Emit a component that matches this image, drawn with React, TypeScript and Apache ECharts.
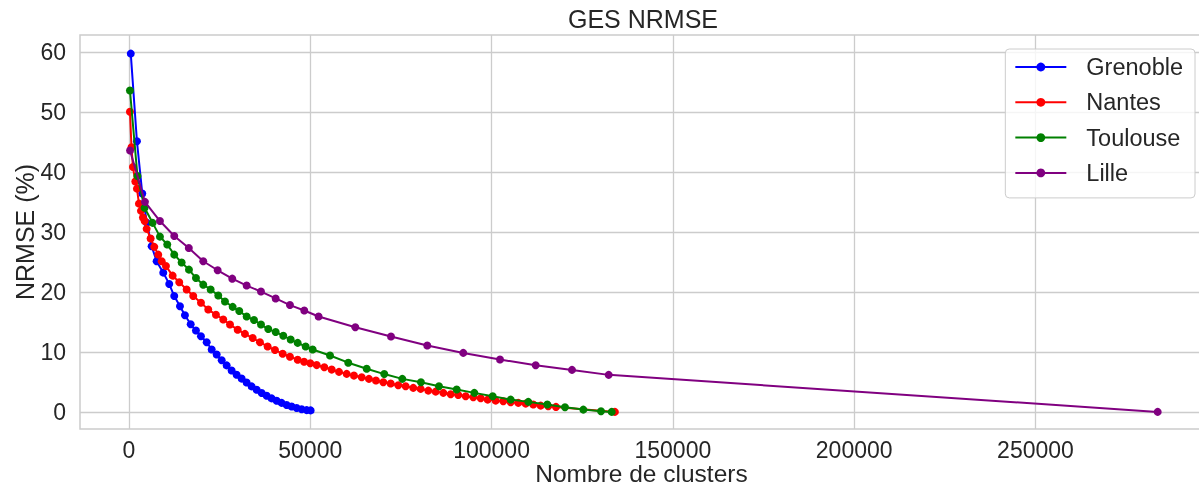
import React, { useEffect, useRef } from "react";
import * as echarts from "echarts";

const seriesNames = ["Grenoble", "Nantes", "Toulouse", "Lille"];
const seriesColors = ["#0000ff", "#ff0000", "#008000", "#800080"];

const grenobleClusters = [500, 2200, 3670, 4960, 6260, 7640, 9460, 11110, 12490, 14070, 15440, 17020, 18480, 19860, 21430, 22810, 24190, 25570, 26950, 28320, 29700, 31080, 32460, 33840, 35220, 36600, 37980, 39360, 40740, 42110, 43490, 44870, 46250, 47630, 49010, 50110];
const grenobleNrmse = [59.7, 45.1, 36.4, 31.5, 27.6, 25.1, 23.2, 21.3, 19.3, 17.6, 16.1, 14.6, 13.55, 12.6, 11.6, 10.4, 9.55, 8.6, 7.75, 6.9, 6.2, 5.55, 4.9, 4.25, 3.7, 3.15, 2.7, 2.25, 1.85, 1.5, 1.15, 0.9, 0.65, 0.45, 0.3, 0.25];

const nantesClusters = [280, 700, 1100, 1750, 2200, 2760, 3310, 3860, 4330, 4880, 5980, 6980, 8080, 9020, 10200, 12050, 13870, 15910, 17730, 19860, 21870, 23990, 26010, 27860, 29980, 31990, 34120, 36130, 38250, 40270, 42390, 44400, 46530, 48300, 50000, 51770, 53870, 55910, 57920, 60040, 62050, 64180, 66190, 68120, 70140, 72180, 74270, 76310, 78410, 80450, 82550, 84590, 86690, 88730, 90820, 92860, 94960, 97000, 98930, 101130, 103230, 105270, 107370, 109410, 111510, 113550, 115640, 117770, 134000];
const nantesNrmse = [50.0, 44.1, 40.8, 38.4, 37.2, 34.7, 33.5, 32.4, 31.8, 30.5, 28.9, 27.5, 26.2, 25.1, 24.3, 22.7, 21.6, 20.4, 19.3, 18.2, 17.05, 16.2, 15.4, 14.55, 13.7, 13.0, 12.3, 11.6, 10.9, 10.3, 9.7, 9.2, 8.7, 8.35, 8.1, 7.8, 7.43, 7.05, 6.67, 6.33, 6.05, 5.77, 5.5, 5.22, 4.93, 4.72, 4.43, 4.27, 4.0, 3.83, 3.55, 3.38, 3.17, 2.93, 2.83, 2.6, 2.43, 2.27, 2.05, 1.88, 1.77, 1.6, 1.5, 1.38, 1.22, 1.05, 0.93, 0.83, 0.0];

const toulouseClusters = [280, 2340, 4300, 6530, 8550, 10560, 12490, 14530, 16550, 18480, 20490, 22530, 24630, 26480, 28600, 30420, 32460, 34480, 36410, 38420, 40460, 42560, 44600, 46530, 48730, 50660, 55440, 60480, 65560, 70410, 75380, 80530, 85500, 90380, 95240, 100310, 105270, 110130, 115370, 120250, 125300, 130180, 133130];
const toulouseNrmse = [53.55, 39.3, 34.0, 31.5, 29.2, 27.9, 26.2, 24.9, 23.7, 22.3, 21.2, 20.4, 19.4, 18.4, 17.5, 16.8, 15.9, 15.3, 14.55, 13.8, 13.3, 12.7, 12.05, 11.5, 10.9, 10.4, 9.4, 8.2, 7.2, 6.3, 5.5, 4.93, 4.27, 3.72, 3.17, 2.6, 2.05, 1.67, 1.22, 0.77, 0.38, 0.1, 0.0];

const lilleClusters = [300, 4410, 8550, 12490, 16500, 20490, 24460, 28490, 32460, 36410, 40460, 44400, 48350, 52300, 62420, 72260, 82270, 92200, 102320, 112170, 122180, 132300, 283700];
const lilleNrmse = [43.55, 35.0, 31.8, 29.3, 27.3, 25.1, 23.6, 22.2, 21.05, 20.05, 18.9, 17.8, 16.9, 15.9, 14.1, 12.55, 11.05, 9.83, 8.72, 7.77, 7.0, 6.17, 0.0];

const xTicks = [0, 50000, 100000, 150000, 200000, 250000];
const yTicks = [0, 10, 20, 30, 40, 50, 60];

const titleText = "GES NRMSE";
const xAxisTitle = "Nombre de clusters";
const yAxisTitle = "NRMSE (%)";

const FONT = "'Liberation Sans', Arial, Helvetica, sans-serif";
const TEXT_COLOR = "#262626";
const GRID_COLOR = "#cccccc";

export default function App() {
  const ref = useRef<HTMLDivElement>(null);

  useEffect(() => {
    if (!ref.current) return;
    const chart = echarts.init(ref.current, null, { renderer: "svg" });

    const allX = [grenobleClusters, nantesClusters, toulouseClusters, lilleClusters];
    const allY = [grenobleNrmse, nantesNrmse, toulouseNrmse, lilleNrmse];

    const series = seriesNames.map((name, i) => ({
      name,
      type: "line",
      data: allX[i].map((x, j) => [x, allY[i][j]]),
      symbol: "circle",
      symbolSize: 8,
      showSymbol: true,
      showAllSymbol: true,
      lineStyle: { width: 2, color: seriesColors[i] },
      itemStyle: { color: seriesColors[i] },
      emphasis: { disabled: true },
      z: 2 + i,
    }));

    chart.setOption({
      animation: false,
      textStyle: { fontFamily: FONT, color: TEXT_COLOR },
      title: {
        text: titleText,
        left: 643,
        top: 6,
        padding: 0,
        textAlign: "center",
        textStyle: { fontFamily: FONT, fontSize: 25, fontWeight: "normal", color: TEXT_COLOR },
      },
      grid: {
        left: 80,
        top: 35,
        right: -4,
        bottom: 62,
        show: true,
        borderColor: GRID_COLOR,
        borderWidth: 1.5,
        backgroundColor: "#ffffff",
        containLabel: false,
        outerBoundsMode: "none",
      },
      legend: {
        orient: "vertical",
        right: 4,
        top: 49,
        backgroundColor: "rgba(255,255,255,0.8)",
        borderColor: GRID_COLOR,
        borderWidth: 1,
        borderRadius: 4,
        padding: [6, 12, 13, 9],
        itemWidth: 51,
        itemHeight: 11,
        itemGap: 11.3,
        data: seriesNames,
        textStyle: { fontFamily: FONT, fontSize: 23.5, color: TEXT_COLOR, padding: [0, 0, 0, 15] },
      },
      xAxis: {
        type: "value",
        min: -13500,
        max: 296200,
        name: xAxisTitle,
        nameLocation: "middle",
        nameGap: 32,
        nameMoveOverlap: false,
        nameTextStyle: { fontFamily: FONT, fontSize: 24.5, color: TEXT_COLOR },
        axisLine: { show: false },
        axisTick: { show: false, customValues: xTicks },
        axisLabel: {
          customValues: xTicks,
          formatter: (v: number) => String(v),
          fontFamily: FONT,
          fontSize: 23,
          color: TEXT_COLOR,
          margin: 9,
        },
        splitLine: { show: true, lineStyle: { color: GRID_COLOR, width: 1.3 } },
      },
      yAxis: {
        type: "value",
        min: -2.85,
        max: 62.8,
        name: yAxisTitle,
        nameLocation: "middle",
        nameGap: 43,
        nameMoveOverlap: false,
        nameTextStyle: { fontFamily: FONT, fontSize: 25, color: TEXT_COLOR },
        axisLine: { show: false },
        axisTick: { show: false, customValues: yTicks },
        axisLabel: {
          customValues: yTicks,
          formatter: (v: number) => String(v),
          fontFamily: FONT,
          fontSize: 23,
          color: TEXT_COLOR,
          margin: 14,
        },
        splitLine: { show: true, lineStyle: { color: GRID_COLOR, width: 1.3 } },
      },
      series,
    });

    return () => chart.dispose();
  }, []);

  return (
    <div
      ref={ref}
      style={{ position: "fixed", left: 0, top: 0, width: "1199px", height: "491px" }}
    />
  );
}
